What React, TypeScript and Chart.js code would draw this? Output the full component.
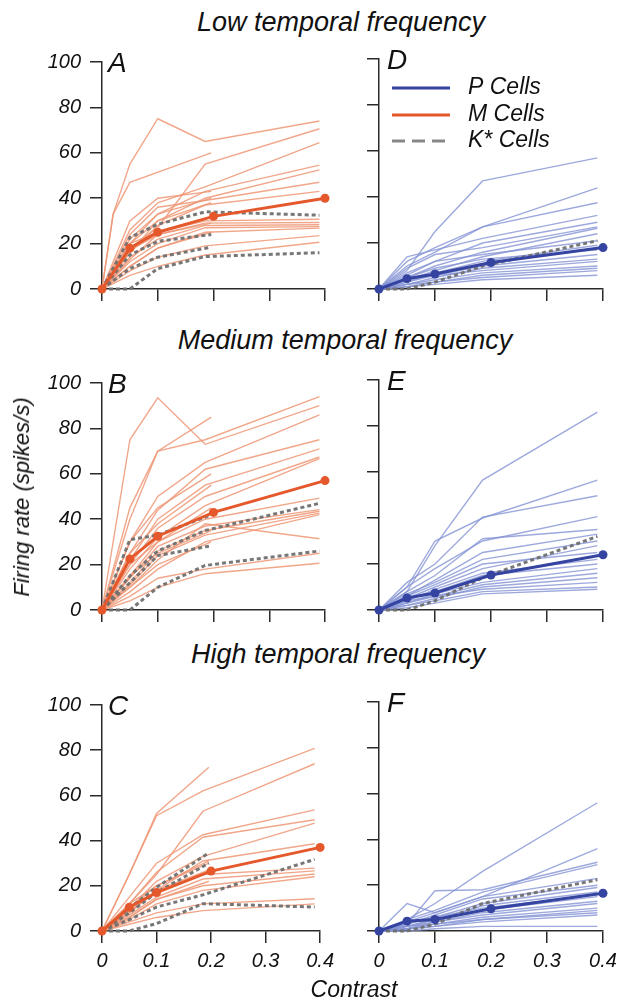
import React, { useEffect, useRef } from 'react';
import { Chart, registerables } from 'chart.js';

Chart.register(...registerables);

const FONT = "'Liberation Sans', Arial, Helvetica, sans-serif";

// ---------- axes / tick labels ----------
const X_TICKS = [0, 0.1, 0.2, 0.3, 0.4];
const Y_TICKS = [0, 20, 40, 60, 80, 100];
const X_TICK_LABELS = ['0', '0.1', '0.2', '0.3', '0.4'];

// ---------- contrast levels ----------
const CONTRAST_MEAN = [0, 0.05, 0.1, 0.2, 0.4];
const CONTRAST_CELL = [0, 0.02, 0.05, 0.1, 0.185, 0.39];
const CONTRAST_SHORT = [0, 0.02, 0.05, 0.1, 0.196];

// ---------- population means ----------
const M_MEAN_LOW = [0, 18, 25, 32, 40];
const P_MEAN_LOW = [0, 4.5, 6.5, 11.5, 18];
const M_MEAN_MED = [0, 22.5, 32.5, 43, 57];
const P_MEAN_MED = [0, 5.2, 7.4, 15.2, 24];
const M_MEAN_HIGH = [0, 10.5, 17, 26.5, 37];
const P_MEAN_HIGH = [0, 4.3, 5, 9.7, 16.5];

// ---------- individual cells (6 values: CONTRAST_CELL, 5 values: CONTRAST_SHORT) ----------
const M_CELLS_LOW = [
  [0, 33, 55, 75, 65, 74],
  [0, null, 18, 27, 55, 70.6],
  [0, null, 26, 38, 45, 64.5],
  [0, null, 22, 33, 43, 54.6],
  [0, null, 20, 30, 40, 52.5],
  [0, null, 24, 36, 39, 47],
  [0, null, 16, 28, 37, 43],
  [0, null, 20, 25, 30, 30.7],
  [0, null, 17, 24, 29, 29.3],
  [0, null, 14, 22, 28, 28.3],
  [0, null, 12, 20, 27, 27.5],
  [0, null, 10, 18, 25, 26.8],
  [0, null, 8, 14, 19, 23.5],
  [0, null, 6, 10, 15, 20.6],
  [0, 33, 47, null, 60],
  [0, null, 30, 40, 43],
  [0, null, 20, 33, 40],
  [0, null, 16, 30, 38],
  [0, null, 13, 24, 29],
  [0, null, 10, 18, 25],
];
const K_CELLS_LOW = [
  [0, null, 22.7, 28.5, 34, 32.5],
  [0, null, 15, 21, 24],
  [0, null, 9, 14, 18.4],
  [0, null, 0, 9, 14.3, 16],
];
const P_CELLS_LOW = [
  [0, null, 8, 25, 47, 57],
  [0, null, 12, 18, 27, 44],
  [0, null, 10, 16, 27, 37.5],
  [0, null, 14, 17, 22, 32],
  [0, null, 6, 12, 20, 29],
  [0, null, 9, 15, 18, 27],
  [0, null, 5, 10, 16, 26.4],
  [0, null, 4, 8, 14, 24],
  [0, null, 7, 12, 15, 21],
  [0, null, 3, 7, 12, 19],
  [0, null, 5, 9, 13, 17],
  [0, null, 4, 6, 10, 15],
  [0, null, 2, 5, 9, 13],
  [0, null, 3, 6, 8, 12],
  [0, null, 2, 4, 7, 10],
  [0, null, 1, 3, 6, 9],
  [0, null, 2, 3, 5, 8],
  [0, null, 1, 2, 4, 6],
];
const PK_CELLS_LOW = [[0, null, 0, 3, 10, 21]];

const M_CELLS_MED = [
  [0, null, 75, 93.5, 73, 90],
  [0, null, 45, 70, 75, 94],
  [0, null, 30, 50, 65, 86],
  [0, null, 25, 44, 62, 75],
  [0, null, 22, 40, 55, 71],
  [0, null, 20, 36, 50, 67.4],
  [0, null, 18, 32, 46, 66.7],
  [0, null, 15, 30, 40, 49.3],
  [0, null, 14, 28, 37, 44.2],
  [0, null, 12, 26, 35, 43.5],
  [0, null, 11, 24, 33, 42.7],
  [0, null, 10, 22, 38, 31.4],
  [0, null, 8, 18, 30, 42],
  [0, null, 6, 14, 18, 25],
  [0, null, 4, 10, 16, 20.6],
  [0, null, 40, 70, 85],
  [0, null, 30, 45, 60],
  [0, null, 25, 38, 55],
  [0, null, 20, 30, 45],
  [0, null, 15, 25, 35],
  [0, null, 10, 20, 30],
];
const K_CELLS_MED = [
  [0, null, 31, 33, 42],
  [0, null, 15, 26, 35, 47],
  [0, null, 12, 24, 28.3],
  [0, null, 0, 10, 19.6, 26],
];
const P_CELLS_MED = [
  [0, null, 8, 28, 56.5, 86],
  [0, null, 10, 30, 40, 56.5],
  [0, null, 12, 20, 40.4, 49.7],
  [0, null, 10, 18, 30, 40.6],
  [0, null, 8, 15, 31, 35],
  [0, null, 6, 13, 25, 33],
  [0, null, 7, 12, 22, 30],
  [0, null, 5, 10, 18, 28],
  [0, null, 6, 11, 20, 25],
  [0, null, 4, 9, 16, 22],
  [0, null, 5, 8, 15, 20],
  [0, null, 3, 7, 12, 18],
  [0, null, 4, 6, 11, 16],
  [0, null, 2, 5, 10, 14],
  [0, null, 3, 6, 9, 12],
  [0, null, 2, 4, 8, 10],
  [0, null, 1, 3, 7, 9],
];
const PK_CELLS_MED = [[0, null, 0, 4, 14, 32]];

const M_CELLS_HIGH = [
  [0, null, 25, 52, 72.5],
  [0, null, 25, 51, 62, 80.8],
  [0, null, 12, 25, 53, 74],
  [0, null, 15, 30, 42.6, 53.6],
  [0, null, 12, 26, 41.5, 49.2],
  [0, null, 10, 22, 33, 47.7],
  [0, null, 8, 18, 31, 38.6],
  [0, null, 9, 17, 25, 27.8],
  [0, null, 7, 15, 23, 26.6],
  [0, null, 6, 14, 20, 25.2],
  [0, null, 5, 12, 18, 24],
  [0, null, 4, 8, 12, 14.3],
  [0, null, 3, 6, 9, 12],
  [0, null, 10, 20, 31],
  [0, null, 8, 18, 27],
  [0, null, 6, 14, 22],
  [0, null, 12, 20, 30],
];
const K_CELLS_HIGH = [
  [0, null, 10, 19.3, 34.6],
  [0, null, 8, 17, 30],
  [0, null, 0, 3.3, 12.1, 10.6],
  [0, null, 5, 10.6, 16, 31.7],
];
const P_CELLS_HIGH = [
  [0, null, 5, 12, 26, 56],
  [0, null, 12, 8, 15, 36],
  [0, null, 3, 17.6, 18, 30],
  [0, null, 5, 9, 17, 29],
  [0, null, 4, 8, 15, 23],
  [0, null, 3, 7, 14, 20],
  [0, null, 4, 6, 12, 19],
  [0, null, 2, 5, 11, 17],
  [0, null, 3, 6, 10, 16],
  [0, null, 2, 5, 9, 15],
  [0, null, 2, 4, 8, 13],
  [0, null, 1, 4, 7, 12],
  [0, null, 2, 3, 6, 10],
  [0, null, 1, 3, 5, 9],
  [0, null, 1, 2, 5, 8],
  [0, null, 1, 2, 4, 7],
  [0, null, 0, 1, 2, 2],
];
const PK_CELLS_HIGH = [[0, null, 0, 3, 12, 22.4]];

// ---------- legend ----------
const LEGEND_LABELS = ['P Cells', 'M Cells', 'K* Cells'];

// ---------- colours ----------
const M_DARK = 'rgb(228, 88, 44)';
const M_LIGHT = 'rgba(238, 150, 118, 0.85)';
const P_DARK = 'rgb(52, 68, 160)';
const P_LIGHT = 'rgba(132, 148, 212, 0.8)';
const K_GREY = 'rgba(112, 112, 112, 0.95)';
const AXIS = '#2a2a2a';

// ---------- layout ----------
const ROW_TOP = [59, 380, 702];
const ROW_BOTTOM = [289, 610, 931];
const PAD_TOP = 18;
const X_AXIS_H = 46;
const COLS = [
  { left: 0, width: 340, yw: 102, padRight: 15 },
  { left: 340, width: 284, yw: 39, padRight: 21 },
];

function cellPoints(ys: (number | null)[]) {
  const xs = ys.length === 5 ? CONTRAST_SHORT : CONTRAST_CELL;
  const out: { x: number; y: number }[] = [];
  ys.forEach((y, i) => {
    if (y !== null && y !== undefined) out.push({ x: xs[i], y });
  });
  return out;
}

function meanPoints(ys: number[]) {
  return ys.map((y, i) => ({ x: CONTRAST_MEAN[i], y }));
}

const letterPlugin = {
  id: 'panelLetter',
  afterDraw(chart: any, _args: any, opts: any) {
    if (!opts || !opts.text) return;
    const { ctx, chartArea } = chart;
    ctx.save();
    ctx.font = `italic 28px ${FONT}`;
    ctx.fillStyle = '#111';
    ctx.textBaseline = 'alphabetic';
    ctx.textAlign = 'left';
    ctx.fillText(opts.text, chartArea.left + opts.dx, chartArea.top + 10);
    ctx.restore();
  },
};

const legendPlugin = {
  id: 'cellLegend',
  afterDraw(chart: any, _args: any, opts: any) {
    if (!opts || !opts.show) return;
    const { ctx, chartArea } = chart;
    const x0 = chartArea.left + 13;
    const x1 = chartArea.left + 71;
    const tx = chartArea.left + 89;
    const ys = [chartArea.top + 29, chartArea.top + 56, chartArea.top + 82];
    const colors = [P_DARK, M_DARK, 'rgb(135,135,135)'];
    ctx.save();
    LEGEND_LABELS.forEach((label, i) => {
      ctx.beginPath();
      ctx.lineWidth = 3;
      ctx.strokeStyle = colors[i];
      ctx.setLineDash(i === 2 ? [13, 7] : []);
      ctx.moveTo(x0, ys[i]);
      ctx.lineTo(x1, ys[i]);
      ctx.stroke();
      ctx.setLineDash([]);
      ctx.font = `italic 23px ${FONT}`;
      ctx.fillStyle = '#111';
      ctx.textBaseline = 'middle';
      ctx.textAlign = 'left';
      ctx.fillText(label, tx, ys[i]);
    });
    ctx.restore();
  },
};

type PanelSpec = {
  letter: string;
  row: number;
  col: number;
  mean: number[];
  meanColor: string;
  cells: (number | null)[][];
  cellColor: string;
  kCells: (number | null)[][];
  legend?: boolean;
};

const PANELS: PanelSpec[] = [
  { letter: 'A', row: 0, col: 0, mean: M_MEAN_LOW, meanColor: M_DARK, cells: M_CELLS_LOW, cellColor: M_LIGHT, kCells: K_CELLS_LOW },
  { letter: 'D', row: 0, col: 1, mean: P_MEAN_LOW, meanColor: P_DARK, cells: P_CELLS_LOW, cellColor: P_LIGHT, kCells: PK_CELLS_LOW, legend: true },
  { letter: 'B', row: 1, col: 0, mean: M_MEAN_MED, meanColor: M_DARK, cells: M_CELLS_MED, cellColor: M_LIGHT, kCells: K_CELLS_MED },
  { letter: 'E', row: 1, col: 1, mean: P_MEAN_MED, meanColor: P_DARK, cells: P_CELLS_MED, cellColor: P_LIGHT, kCells: PK_CELLS_MED },
  { letter: 'C', row: 2, col: 0, mean: M_MEAN_HIGH, meanColor: M_DARK, cells: M_CELLS_HIGH, cellColor: M_LIGHT, kCells: K_CELLS_HIGH },
  { letter: 'F', row: 2, col: 1, mean: P_MEAN_HIGH, meanColor: P_DARK, cells: P_CELLS_HIGH, cellColor: P_LIGHT, kCells: PK_CELLS_HIGH },
];

function Panel({ spec }: { spec: PanelSpec }) {
  const ref = useRef<HTMLCanvasElement | null>(null);
  const col = COLS[spec.col];
  const top = ROW_TOP[spec.row] - PAD_TOP;
  const height = ROW_BOTTOM[spec.row] - ROW_TOP[spec.row] + PAD_TOP + X_AXIS_H;
  const showXLabels = spec.row === 2;
  const showYLabels = spec.col === 0;

  useEffect(() => {
    if (!ref.current) return;
    const datasets: any[] = [];
    datasets.push({
      data: meanPoints(spec.mean),
      borderColor: spec.meanColor,
      backgroundColor: spec.meanColor,
      borderWidth: 3,
      pointRadius: 4.5,
      pointBorderWidth: 0,
      pointBackgroundColor: spec.meanColor,
      tension: 0,
      clip: false,
    });
    spec.kCells.forEach((ys) =>
      datasets.push({
        data: cellPoints(ys),
        borderColor: K_GREY,
        borderWidth: 3,
        borderDash: [4, 3],
        pointRadius: 0,
        tension: 0,
        clip: false,
      })
    );
    spec.cells.forEach((ys) =>
      datasets.push({
        data: cellPoints(ys),
        borderColor: spec.cellColor,
        borderWidth: 1.4,
        pointRadius: 0,
        tension: 0,
        clip: false,
      })
    );

    const chart = new Chart(ref.current, {
      type: 'line',
      data: { datasets },
      plugins: [letterPlugin, legendPlugin],
      options: {
        responsive: false,
        animation: false,
        devicePixelRatio: 1,
        events: [],
        layout: { padding: { top: PAD_TOP, right: col.padRight, left: 0, bottom: 0 } },
        plugins: {
          legend: { display: false },
          tooltip: { enabled: false },
          panelLetter: { text: spec.letter, dx: spec.col === 0 ? 6 : 8 },
          cellLegend: { show: !!spec.legend },
        } as any,
        scales: {
          x: {
            type: 'linear',
            min: 0,
            max: 0.4,
            afterBuildTicks: (s: any) => {
              s.ticks = X_TICKS.map((v) => ({ value: v }));
            },
            afterFit: (s: any) => {
              s.height = X_AXIS_H;
            },
            grid: {
              drawOnChartArea: false,
              drawTicks: true,
              tickLength: 12,
              tickWidth: 1.5,
              tickColor: AXIS,
              color: AXIS,
              lineWidth: 1.5,
            },
            border: { display: true, color: AXIS, width: 1.5 },
            ticks: {
              display: showXLabels,
              autoSkip: false,
              maxRotation: 0,
              padding: 6,
              color: '#111',
              font: { family: FONT, size: 20, style: 'italic' },
              callback: (v: any) => {
                const i = X_TICKS.findIndex((t) => Math.abs(t - v) < 1e-9);
                return i >= 0 ? X_TICK_LABELS[i] : '';
              },
            },
          },
          y: {
            type: 'linear',
            min: 0,
            max: 100,
            afterBuildTicks: (s: any) => {
              s.ticks = Y_TICKS.map((v) => ({ value: v }));
            },
            afterFit: (s: any) => {
              s.width = col.yw;
            },
            grid: {
              drawOnChartArea: false,
              drawTicks: true,
              tickLength: 12,
              tickWidth: 1.5,
              tickColor: AXIS,
              color: AXIS,
              lineWidth: 1.5,
            },
            border: { display: true, color: AXIS, width: 1.5 },
            ticks: {
              display: showYLabels,
              autoSkip: false,
              padding: 9,
              color: '#111',
              font: { family: FONT, size: 20, style: 'italic' },
              callback: (v: any) => String(v),
            },
          },
        },
      } as any,
    });
    return () => chart.destroy();
  }, []);

  return (
    <canvas
      ref={ref}
      width={col.width}
      height={height}
      style={{ position: 'absolute', left: col.left, top, width: col.width, height }}
    />
  );
}

const titleStyle: React.CSSProperties = {
  position: 'absolute',
  left: 0,
  width: 682,
  textAlign: 'center',
  fontStyle: 'italic',
  fontSize: 27,
  lineHeight: '27px',
  color: '#111',
  whiteSpace: 'nowrap',
};

export default function App() {
  return (
    <div
      style={{
        position: 'fixed',
        left: 0,
        top: 0,
        width: 624,
        height: 1006,
        background: '#fff',
        fontFamily: FONT,
        overflow: 'hidden',
      }}
    >
      <div style={{ ...titleStyle, top: 9 }}>Low temporal frequency</div>
      <div style={{ ...titleStyle, top: 327, width: 690 }}>Medium temporal frequency</div>
      <div style={{ ...titleStyle, top: 641, width: 676 }}>High temporal frequency</div>
      {PANELS.map((p) => (
        <Panel key={p.letter} spec={p} />
      ))}
      <div
        style={{
          position: 'absolute',
          left: 22,
          top: 497,
          transform: 'translate(-50%, -50%) rotate(-90deg)',
          fontStyle: 'italic',
          fontSize: 22,
          lineHeight: '22px',
          whiteSpace: 'nowrap',
          color: '#111',
        }}
      >
        Firing rate (spikes/s)
      </div>
      <div
        style={{
          position: 'absolute',
          left: 0,
          width: 708,
          top: 978,
          textAlign: 'center',
          fontStyle: 'italic',
          fontSize: 23,
          lineHeight: '23px',
          color: '#111',
        }}
      >
        Contrast
      </div>
    </div>
  );
}
